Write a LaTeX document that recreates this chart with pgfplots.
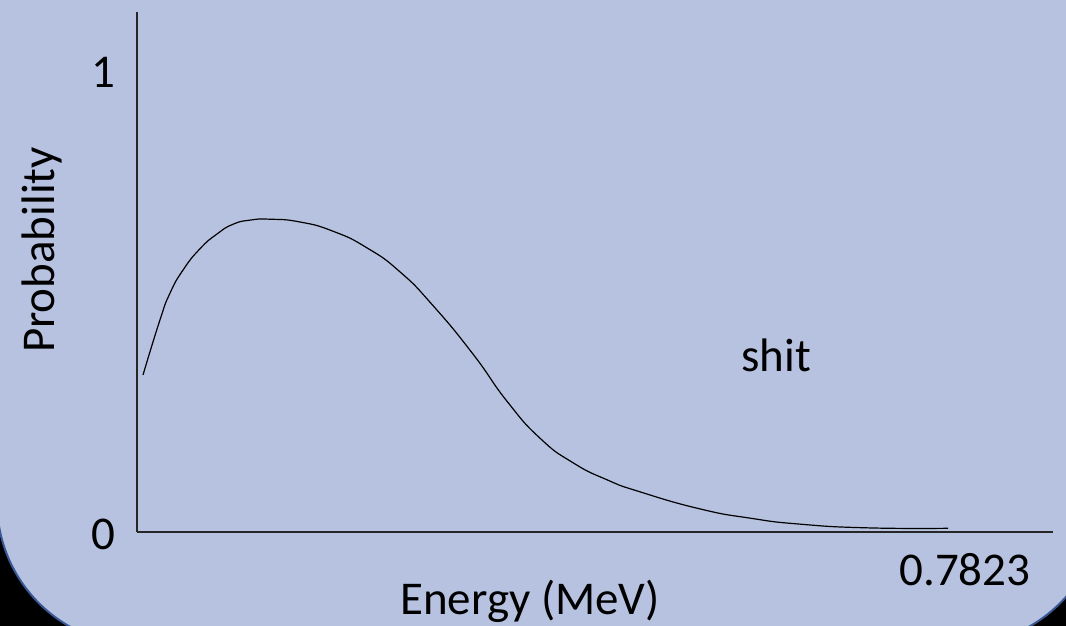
\documentclass[border=0pt]{standalone}
\usepackage{fontspec}
\setmainfont{Carlito}
\usepackage{pgfplots}
\pgfplotsset{compat=1.18}
\definecolor{bgblue}{RGB}{182,194,224}
\definecolor{edgeblue}{RGB}{58,88,150}
\begin{document}
\begin{tikzpicture}
\path[use as bounding box] (0,0) rectangle (1066pt,626pt);
\clip (0,0) rectangle (1066pt,626pt);
\fill[black] (0,0) rectangle (1066pt,626pt);
\filldraw[fill=bgblue, draw=edgeblue, line width=2pt, rounded corners=143pt] (-3pt,-19pt) rectangle (1102pt,790pt);
\begin{axis}[
  at={(137pt,94pt)}, anchor=south west,
  width=916pt, height=520pt, scale only axis,
  xmin=0, xmax=0.8655, ymin=0, ymax=1.1255,
  axis x line=bottom, axis y line=left,
  axis line style={-, line width=1.5pt, black!85},
  xtick={0.7823}, xticklabels={0.7823},
  ytick={0,1}, yticklabels={0,1},
  major tick length=0pt,
  /pgf/number format/assume math mode=true,
  tick label style={font=\fontsize{47}{56}\selectfont, inner sep=0pt},
  xticklabel style={anchor=north, yshift=-21pt},
  yticklabel style={anchor=east, xshift=-21pt, yshift=-2pt},
  clip=false,
]
\addplot[black, line width=1.2pt, smooth, tension=0.9] coordinates {
(0.0057,0.340) (0.0217,0.459) (0.0312,0.517) (0.0435,0.567) (0.0595,0.613)
(0.0756,0.645) (0.0907,0.666) (0.1068,0.675) (0.1257,0.677) (0.1540,0.671)
(0.1852,0.651) (0.2173,0.615) (0.2485,0.563) (0.2797,0.490) (0.3175,0.385)
(0.3496,0.283) (0.3808,0.203) (0.4119,0.150) (0.4441,0.113) (0.4752,0.087)
(0.5319,0.050) (0.5792,0.030) (0.6264,0.017) (0.6897,0.009) (0.7663,0.008)
};
\end{axis}
\node[rotate=90, font=\fontsize{47}{56}\selectfont, inner sep=0pt] at (42pt,376pt) {Probability};
\node[anchor=base, font=\fontsize{47}{56}\selectfont, inner sep=0pt] at (530pt,11pt) {Energy (MeV)};
\node[anchor=base, font=\fontsize{47}{56}\selectfont, inner sep=0pt] at (776pt,254pt) {shit};
\end{tikzpicture}
\end{document}
